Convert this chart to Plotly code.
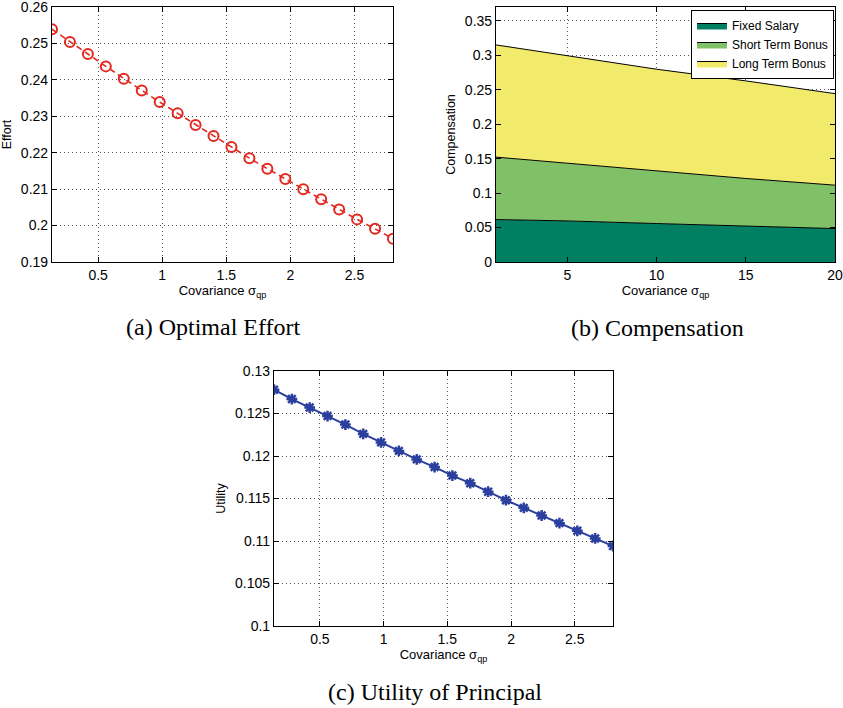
import plotly.graph_objects as go

W, H = 843, 708

# ---------- data ----------
cov_a = [0.14, 0.28, 0.42, 0.56, 0.70, 0.84, 0.98, 1.12, 1.26, 1.40,
         1.54, 1.68, 1.82, 1.96, 2.10, 2.24, 2.38, 2.52, 2.66, 2.80]
effort = [0.2539, 0.2504, 0.2471, 0.2437, 0.2403, 0.2371, 0.2339, 0.2308, 0.2276, 0.2246,
          0.2216, 0.2185, 0.2156, 0.2128, 0.2100, 0.2072, 0.2044, 0.2017, 0.1991, 0.1964]

cov_b = [1, 5, 10, 15, 20]
fixed_salary = [0.0616, 0.0596, 0.0558, 0.0519, 0.0485]
short_bonus = [0.0906, 0.0839, 0.0765, 0.0693, 0.0630]
long_bonus = [0.1628, 0.1561, 0.1474, 0.1416, 0.1328]

cov_c = cov_a
utility = [0.1278, 0.1267, 0.1257, 0.1247, 0.1237, 0.1226, 0.1216, 0.1206, 0.1196, 0.1187,
           0.1177, 0.1168, 0.1158, 0.1148, 0.1139, 0.1130, 0.1121, 0.1112, 0.1103, 0.1094]

xticks_a = [0.5, 1, 1.5, 2, 2.5]
xtick_text_a = ["0.5", "1", "1.5", "2", "2.5"]
yticks_a = [0.19, 0.20, 0.21, 0.22, 0.23, 0.24, 0.25, 0.26]
ytick_text_a = ["0.19", "0.2", "0.21", "0.22", "0.23", "0.24", "0.25", "0.26"]

xticks_b = [5, 10, 15, 20]
xtick_text_b = ["5", "10", "15", "20"]
yticks_b = [0, 0.05, 0.10, 0.15, 0.20, 0.25, 0.30, 0.35]
ytick_text_b = ["0", "0.05", "0.1", "0.15", "0.2", "0.25", "0.3", "0.35"]

yticks_c = [0.10, 0.105, 0.11, 0.115, 0.12, 0.125, 0.13]
ytick_text_c = ["0.1", "0.105", "0.11", "0.115", "0.12", "0.125", "0.13"]

captions = ["(a) Optimal Effort", "(b) Compensation", "(c) Utility of Principal"]

# ---------- figure ----------
fig = go.Figure()

fig.add_trace(go.Scatter(
    x=cov_a, y=effort, mode="lines+markers", xaxis="x", yaxis="y",
    line=dict(color="#E3281F", width=1.6, dash="6px,4px"),
    marker=dict(symbol="circle-open", size=10, color="#E3281F", line=dict(width=2, color="#E3281F")),
    showlegend=False))

comp_colors = ["#007F62", "#80C066", "#F2EA6A"]
for name, vals, col in zip(["Fixed Salary", "Short Term Bonus", "Long Term Bonus"],
                           [fixed_salary, short_bonus, long_bonus], comp_colors):
    fig.add_trace(go.Scatter(
        x=cov_b, y=vals, mode="lines", stackgroup="one", name=name,
        xaxis="x2", yaxis="y2", fillcolor=col,
        line=dict(color="black", width=1), showlegend=True))

fig.add_trace(go.Scatter(
    x=cov_c, y=utility, mode="lines+markers", xaxis="x3", yaxis="y3",
    line=dict(color="#2B3F9E", width=2),
    marker=dict(symbol="asterisk-open", size=9, color="#2B3F9E", line=dict(width=2.5, color="#2B3F9E")),
    showlegend=False))


def hd(x0, x1):
    return [x0 / W, x1 / W]


def vd(y0, y1):
    return [1 - y1 / H, 1 - y0 / H]


tick_font = dict(family="Liberation Sans, Arial, sans-serif", size=14, color="black")
xtitle_font = dict(family="Liberation Sans, Arial, sans-serif", size=13, color="black")
ytitle_font = dict(family="Liberation Sans, Arial, sans-serif", size=12.5, color="black")
xtitle = "Covariance σ<sub>qp</sub>"

common = dict(showline=True, linecolor="black", linewidth=1.2, mirror="ticks",
              ticks="inside", ticklen=5, tickcolor="black", tickwidth=1,
              showgrid=True, gridcolor="#555555", griddash="1px,3px", gridwidth=1,
              zeroline=False, tickfont=tick_font, automargin=False,
              ticklabeloverflow="allow")

fig.update_layout(
    width=W, height=H, margin=dict(l=0, r=0, t=0, b=0, autoexpand=False),
    paper_bgcolor="white", plot_bgcolor="white",
    font=dict(family="Liberation Sans, Arial, sans-serif", color="black"),
    xaxis=dict(domain=hd(52, 393), range=[0.14, 2.8], tickvals=xticks_a, ticktext=xtick_text_a,
               title=dict(text=xtitle, font=xtitle_font, standoff=2), anchor="y", **common),
    yaxis=dict(domain=vd(7, 262), range=[0.19, 0.26], tickvals=yticks_a, ticktext=ytick_text_a,
               title=dict(text="Effort", font=ytitle_font, standoff=8), anchor="x", **common),
    xaxis2=dict(domain=hd(496, 835), range=[1, 20], tickvals=xticks_b, ticktext=xtick_text_b,
                title=dict(text=xtitle, font=xtitle_font, standoff=2), anchor="y2", **common),
    yaxis2=dict(domain=vd(7, 262), range=[0, 0.37], tickvals=yticks_b, ticktext=ytick_text_b,
                title=dict(text="Compensation", font=ytitle_font, standoff=6), anchor="x2", **common),
    xaxis3=dict(domain=hd(274, 613), range=[0.14, 2.8], tickvals=xticks_a, ticktext=xtick_text_a,
                title=dict(text=xtitle, font=xtitle_font, standoff=2), anchor="y3", **common),
    yaxis3=dict(domain=vd(371, 626), range=[0.10, 0.13], tickvals=yticks_c, ticktext=ytick_text_c,
                title=dict(text="Utility", font=ytitle_font, standoff=6), anchor="x3", **common),
    legend=dict(x=834 / W, y=1 - 10 / H, xanchor="right", yanchor="top",
                bgcolor="white", bordercolor="black", borderwidth=1,
                font=dict(family="Liberation Sans, Arial, sans-serif", size=12, color="black"),
                traceorder="normal", tracegroupgap=0, itemwidth=30),
)

cap_font = dict(family="Liberation Serif, Times New Roman, serif", size=24, color="black")
for txt, cx, cy in zip(captions, [213, 657, 435], [327, 328, 692]):
    fig.add_annotation(text=txt, x=cx / W, y=1 - cy / H, xref="paper", yref="paper",
                       xanchor="center", yanchor="middle", showarrow=False, font=cap_font)

fig.write_html("out.html", config={"displayModeBar": False},
               post_script="document.body.style.margin='0';document.body.style.overflow='hidden';")
